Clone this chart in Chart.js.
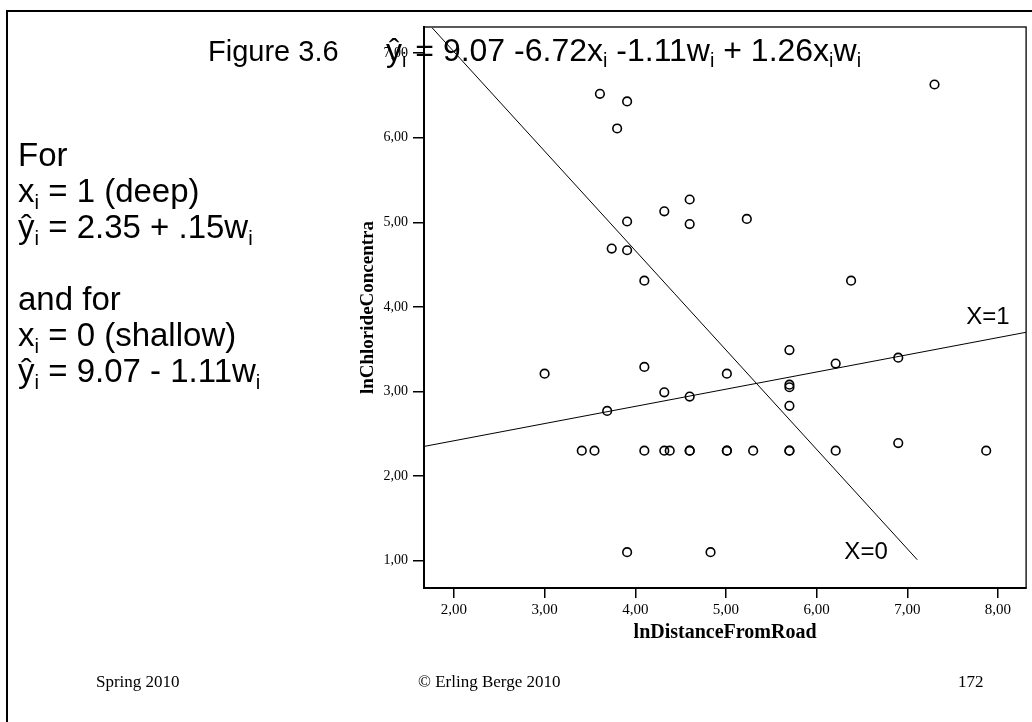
<!DOCTYPE html>
<html>
<head>
<meta charset="utf-8">
<title>Figure 3.6</title>
<script src="https://cdn.jsdelivr.net/npm/chart.js@4.4.0/dist/chart.umd.min.js"></script>
<style>
  html, body { margin: 0; padding: 0; background: #fff; }
  #slide { position: relative; width: 1032px; height: 722px; overflow: hidden; }
  #chart { position: absolute; left: 0; top: 0; }
  .frame-top { position: absolute; left: 6px; top: 10px; width: 1030px; height: 2px; background: #000; }
  .frame-left { position: absolute; left: 6px; top: 10px; width: 2px; height: 720px; background: #000; }
  .sans { position: absolute; font-family: "Liberation Sans", Arial, sans-serif; color: #000; white-space: pre; }
  .sans sub { font-size: 0.62em; line-height: 0; vertical-align: -0.32em; }
  #title { left: 208px; top: 33px; font-size: 29px; line-height: 36px; }
  #equation { left: 386px; top: 32px; font-size: 32px; line-height: 36px; }
  #notes { left: 18px; top: 137px; font-size: 33px; line-height: 36px; }
  .foot { position: absolute; top: 672px; font-family: "Liberation Serif", "Times New Roman", serif; font-size: 17px; line-height: 20px; color: #000; white-space: pre; }
</style>
</head>
<body>
<div id="slide">
  <canvas id="chart" width="1032" height="722"></canvas>
  <div class="frame-top"></div>
  <div class="frame-left"></div>
  <div id="title" class="sans">Figure 3.6</div>
  <div id="equation" class="sans">ŷ<sub>i</sub> = 9.07 -6.72x<sub>i</sub> -1.11w<sub>i</sub> + 1.26x<sub>i</sub>w<sub>i</sub></div>
  <div id="notes" class="sans">For
x<sub>i</sub> = 1 (deep)
ŷ<sub>i</sub> = 2.35 + .15w<sub>i</sub>

and for
x<sub>i</sub> = 0 (shallow)
ŷ<sub>i</sub> = 9.07 - 1.11w<sub>i</sub></div>
  <div class="foot" style="left:96px">Spring 2010</div>
  <div class="foot" style="left:418px">© Erling Berge 2010</div>
  <div class="foot" style="left:958px">172</div>
</div>
<script>
// observations: ln distance from road (x) and ln chloride concentration (y)
const lnDistance = [
  3.61, 3.91, 3.80, 3.91, 3.74, 3.91, 4.10, 4.32, 4.60, 4.60,
  7.30, 5.23, 6.38, 3.00, 4.10, 4.32, 4.60, 3.69, 5.01, 5.70,
  6.21, 6.90, 5.70, 5.70, 5.70, 6.90,
  3.41, 3.55, 4.10, 4.32, 4.38, 4.60, 4.60, 5.01, 5.01, 5.30,
  5.70, 5.70, 6.21, 7.87,
  3.91, 4.83
];
const lnChloride = [
  6.52, 6.43, 6.11, 5.01, 4.69, 4.67, 4.31, 5.13, 5.27, 4.98,
  6.63, 5.04, 4.31, 3.21, 3.29, 2.99, 2.94, 2.77, 3.21, 3.49,
  3.33, 3.40, 3.08, 3.05, 2.83, 2.39,
  2.30, 2.30, 2.30, 2.30, 2.30, 2.30, 2.30, 2.30, 2.30, 2.30,
  2.30, 2.30, 2.30, 2.30,
  1.10, 1.10
];

// fitted lines, end points (deep wells X=1, shallow wells X=0)
const deepLineX = [1.67, 8.31];
const deepLineY = [2.35, 3.70];
const shallowLineX = [1.76, 7.11];
const shallowLineY = [7.30, 1.01];

const xTicks = [2, 3, 4, 5, 6, 7, 8];
const yTicks = [1, 2, 3, 4, 5, 6, 7];

const toPoints = (xs, ys) => xs.map((x, i) => ({ x: x, y: ys[i] }));
const fmt = v => Number(v).toFixed(2).replace('.', ',');

// frame round the plot area plus the X=1 / X=0 line labels
const plotFrame = {
  id: 'plotFrame',
  afterDraw(chart) {
    const { ctx, chartArea: a, scales } = chart;
    ctx.save();
    ctx.strokeStyle = '#000';
    ctx.lineWidth = 1.3;
    ctx.strokeRect(a.left, a.top, a.right - a.left, a.bottom - a.top);
    ctx.fillStyle = '#000';
    ctx.font = '24px "Liberation Sans", Arial, sans-serif';
    ctx.textAlign = 'center';
    ctx.textBaseline = 'middle';
    ctx.fillText('X=1', scales.x.getPixelForValue(7.89), scales.y.getPixelForValue(3.88));
    ctx.fillText('X=0', scales.x.getPixelForValue(6.545), scales.y.getPixelForValue(1.10));
    ctx.restore();
  }
};

const serif = '"Liberation Serif", "Times New Roman", serif';

new Chart(document.getElementById('chart'), {
  type: 'scatter',
  data: {
    datasets: [
      {
        data: toPoints(lnDistance, lnChloride),
        pointStyle: 'circle',
        pointRadius: 4.3,
        borderWidth: 1.6,
        borderColor: '#000',
        backgroundColor: 'rgba(0,0,0,0)'
      },
      {
        data: toPoints(deepLineX, deepLineY),
        showLine: true,
        pointRadius: 0,
        borderWidth: 1,
        borderColor: '#000'
      },
      {
        data: toPoints(shallowLineX, shallowLineY),
        showLine: true,
        pointRadius: 0,
        borderWidth: 1,
        borderColor: '#000'
      }
    ]
  },
  options: {
    responsive: false,
    animation: false,
    devicePixelRatio: 1,
    layout: { padding: { left: 350, top: 27, right: 3, bottom: 74 } },
    plugins: { legend: { display: false }, tooltip: { enabled: false } },
    scales: {
      x: {
        type: 'linear',
        min: 1.67,
        max: 8.31,
        afterBuildTicks: s => { s.ticks = xTicks.map(v => ({ value: v })); },
        afterFit: s => { s.height = 60; },
        border: { display: true, color: '#000', width: 2 },
        grid: { drawOnChartArea: false, drawTicks: true, tickLength: 10, color: '#000', lineWidth: 1.5 },
        ticks: { color: '#000', font: { family: serif, size: 15 }, padding: 3, maxRotation: 0, autoSkip: false, callback: v => fmt(v) },
        title: { display: true, text: 'lnDistanceFromRoad', color: '#000', font: { family: serif, size: 20, weight: 'bold' }, padding: { top: 0, bottom: 3 } }
      },
      y: {
        type: 'linear',
        min: 0.676,
        max: 7.31,
        afterBuildTicks: s => { s.ticks = yTicks.map(v => ({ value: v })); },
        afterFit: s => { s.width = 74; },
        border: { display: true, color: '#000', width: 2 },
        grid: { drawOnChartArea: false, drawTicks: true, tickLength: 11, color: '#000', lineWidth: 1.5 },
        ticks: { color: '#000', font: { family: serif, size: 14 }, padding: 5, autoSkip: false, callback: v => fmt(v) },
        title: { display: true, text: 'lnChlorideConcentra', color: '#000', font: { family: serif, size: 19, weight: 'bold' }, padding: { top: 7, bottom: 0 } }
      }
    }
  },
  plugins: [plotFrame]
});
</script>
</body>
</html>
